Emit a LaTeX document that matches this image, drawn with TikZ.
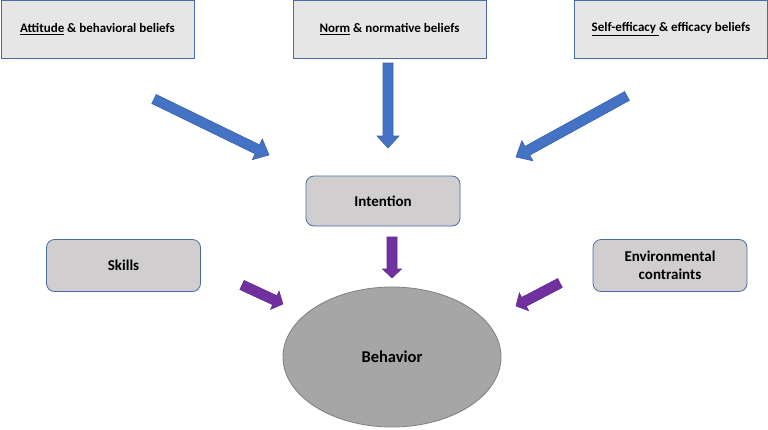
\documentclass[tikz,border=0pt]{standalone}
\usepackage{fontspec}
\setmainfont{Carlito}
\usetikzlibrary{calc,shapes.geometric}
\definecolor{topfill}{HTML}{E7E6E6}
\definecolor{midfill}{HTML}{D0CECE}
\definecolor{boxline}{HTML}{4A6BAA}
\definecolor{ablue}{HTML}{4472C4}
\definecolor{ablueline}{HTML}{3A63AE}
\definecolor{apurple}{HTML}{7030A0}
\definecolor{apurpleline}{HTML}{642A90}
\definecolor{ellfill}{HTML}{A6A6A6}
\definecolor{ellline}{HTML}{7F7F7F}
% block arrow: #1 name, #2 start, #3 tip, #4 shaft half width, #5 head half width, #6 head length, #7 fill, #8 line
\newcommand\blockarrow[8]{%
  \coordinate (#1h) at ($(#3)!#6!(#2)$);
  \filldraw[fill=#7,draw=#8,line width=0.6pt,line join=miter]
    ($(#2)!#4!90:(#3)$) -- ($(#1h)!#4!90:(#3)$) -- ($(#1h)!#5!90:(#3)$) -- (#3)
    -- ($(#1h)!#5!-90:(#3)$) -- ($(#1h)!#4!-90:(#3)$) -- ($(#2)!#4!-90:(#3)$) -- cycle;}
\begin{document}
\begin{tikzpicture}[x=1pt,y=-1pt,
  every node/.style={font=\bfseries\fontsize{15}{18}\selectfont},
  topbox/.style={draw=boxline,fill=topfill,line width=0.8pt,minimum width=193pt,minimum height=58pt,inner sep=0pt,font=\bfseries\fontsize{13}{16}\selectfont},
  midbox/.style={draw=boxline,fill=midfill,line width=0.8pt,rounded corners=8pt,minimum width=154pt,minimum height=52pt,inner sep=0pt,align=center}]
\useasboundingbox (0,0) rectangle (768,429);
\node[topbox] (att) at (97.5,29) {\underline{Attitude} \& behavioral beliefs};
\node[topbox] (norm) at (389.5,29) {\underline{Norm} \& normative beliefs};
\node[topbox] (self) at (671,29) {\underline{Self-efficacy }\& efficacy beliefs};
\node[midbox,minimum height=50pt] (int) at (383,201) {Intention};
\node[midbox] (skills) at (123.5,265.5) {Skills};
\node[midbox] (env) at (670,265.5) {Environmental\\contraints};
\node[ellipse,draw=ellline,fill=ellfill,line width=0.8pt,minimum width=218pt,minimum height=140pt,font=\bfseries\fontsize{16.5}{19}\selectfont] (beh) at (392,357) {Behavior};
% connector end points
\coordinate (a1s) at (154,99);
\coordinate (a1t) at (269,155);
\coordinate (a2s) at (388,63);
\coordinate (a2t) at (388,148);
\coordinate (a3s) at (627,96);
\coordinate (a3t) at (516,157);
\coordinate (p1s) at (242,285);
\coordinate (p1t) at (283,304);
\coordinate (p2s) at (392,237);
\coordinate (p2t) at (392,278);
\coordinate (p3s) at (560,283);
\coordinate (p3t) at (516,306);
\blockarrow{a1}{a1s}{a1t}{5pt}{11.5pt}{13pt}{ablue}{ablueline}
\blockarrow{a2}{a2s}{a2t}{5pt}{11pt}{12pt}{ablue}{ablueline}
\blockarrow{a3}{a3s}{a3t}{5pt}{11.5pt}{13pt}{ablue}{ablueline}
\blockarrow{p1}{p1s}{p1t}{5pt}{10pt}{9pt}{apurple}{apurpleline}
\blockarrow{p2}{p2s}{p2t}{5pt}{9.5pt}{9pt}{apurple}{apurpleline}
\blockarrow{p3}{p3s}{p3t}{5pt}{10pt}{9pt}{apurple}{apurpleline}
\end{tikzpicture}
\end{document}
